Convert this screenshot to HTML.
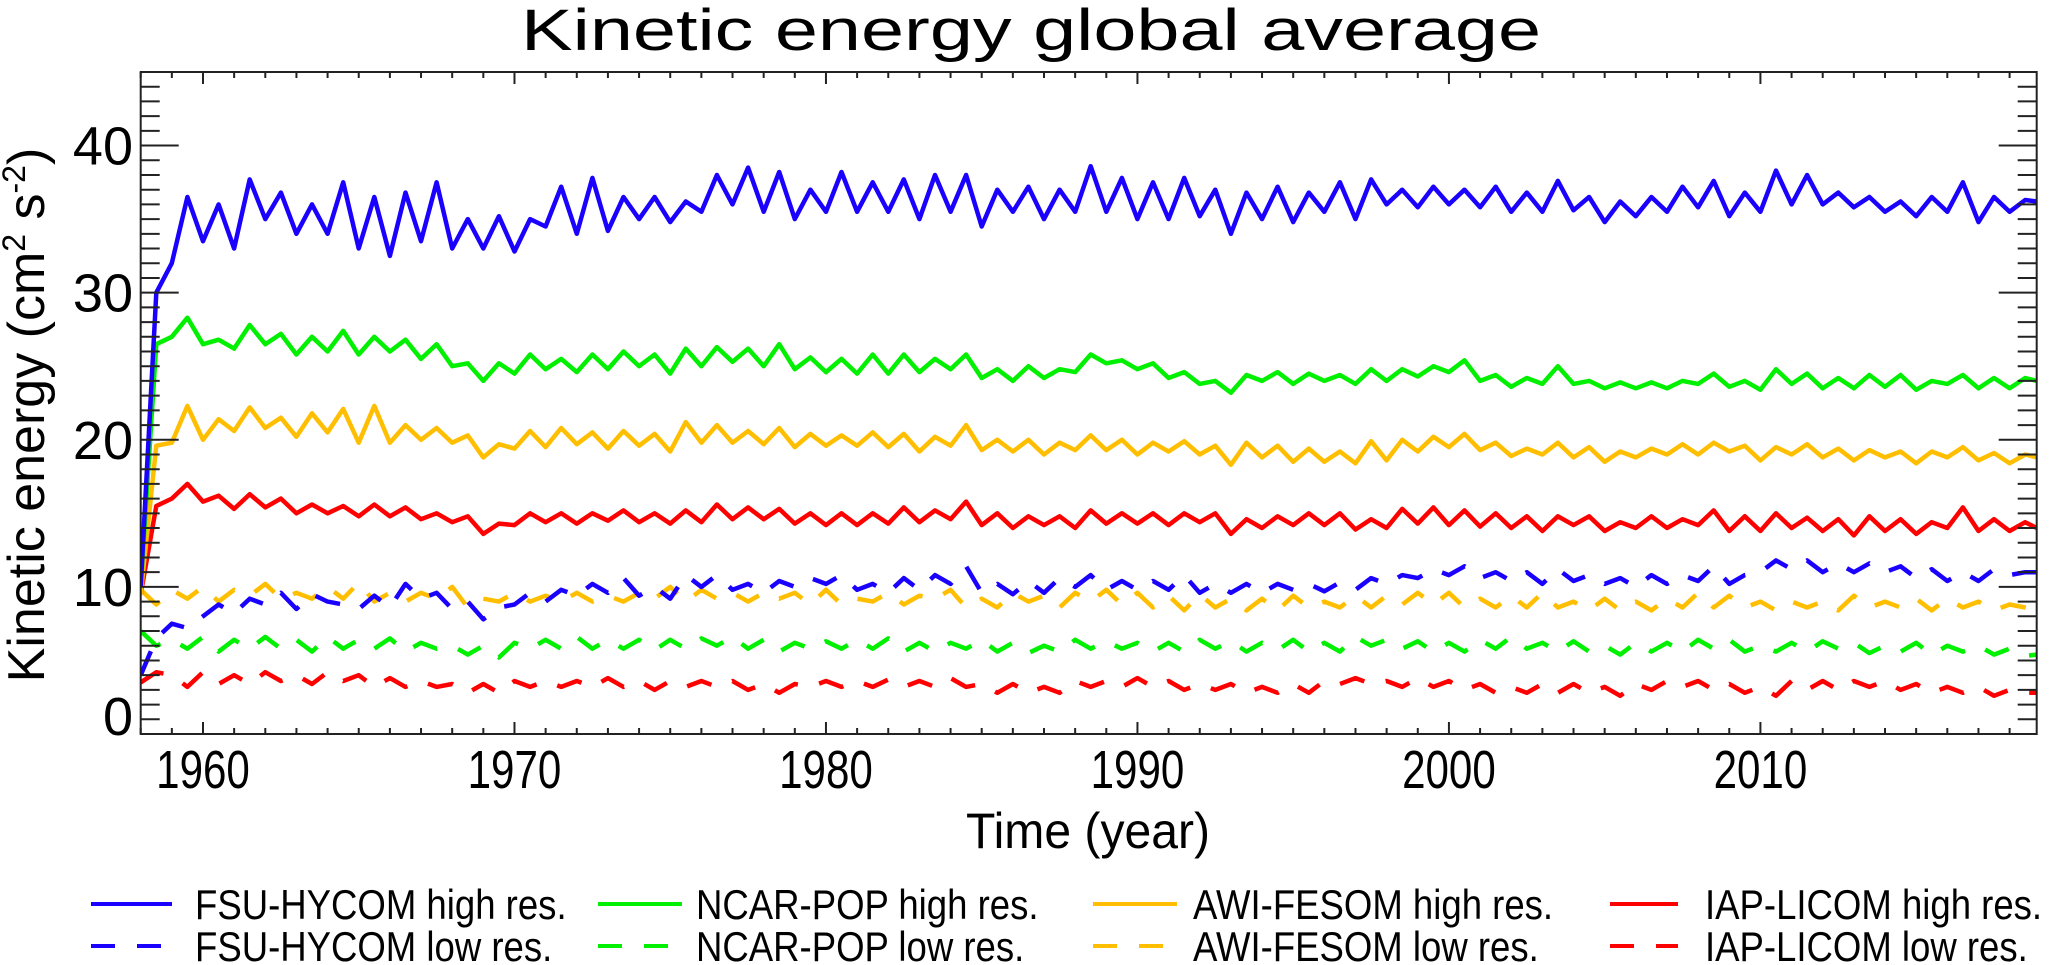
<!DOCTYPE html>
<html><head><meta charset="utf-8"><style>
html,body{margin:0;padding:0;background:#fff;}
svg{display:block;font-family:"Liberation Sans",Arial,sans-serif;}
</style></head><body>
<svg id="chart" width="2067" height="965" viewBox="0 0 2067 965" xmlns="http://www.w3.org/2000/svg">
<rect width="2067" height="965" fill="#fff"/>
<text x="1031" y="50" font-size="58" text-anchor="middle" textLength="1020" lengthAdjust="spacingAndGlyphs">Kinetic energy global average</text>
<g id="series"></g>
<g id="axes"></g>
<text x="1088" y="848" font-size="50" text-anchor="middle" textLength="244" lengthAdjust="spacingAndGlyphs">Time (year)</text>
<text transform="translate(44,415) rotate(-90)" font-size="52" text-anchor="middle">Kinetic energy (cm<tspan font-size="32" dy="-19">2</tspan><tspan dy="19"> s</tspan><tspan font-size="32" dy="-19">-2</tspan><tspan dy="19">)</tspan></text>
<g id="legend"></g>
</svg>
<script>
const T0 = 1958, DT = 0.5;
const seriesNames = ["FSU-HYCOM high res.","NCAR-POP high res.","AWI-FESOM high res.","IAP-LICOM high res.","FSU-HYCOM low res.","NCAR-POP low res.","AWI-FESOM low res.","IAP-LICOM low res."];
const seriesColors = ["#1a00ff","#00f000","#ffbf00","#ff0000","#1a00ff","#00f000","#ffbf00","#ff0000"];
const xTicks = [1960,1970,1980,1990,2000,2010];
const yTicks = [0,10,20,30,40];
const fsuHigh = [10,30,32,36.5,33.5,36,33,37.7,35,36.8,34,36,34,37.5,33,36.5,32.5,36.8,33.5,37.5,33,35,33,35.2,32.8,35,34.5,37.2,34,37.8,34.2,36.5,35,36.5,34.8,36.2,35.5,38,36,38.5,35.5,38.2,35,37,35.5,38.2,35.5,37.5,35.5,37.7,35,38,35.5,38,34.5,37,35.5,37.2,35,37,35.5,38.6,35.5,37.8,35,37.5,35,37.8,35.2,37,34,36.8,35,37.2,34.8,36.8,35.5,37.5,35,37.7,36,37,35.8,37.2,36,37,35.8,37.2,35.5,36.8,35.5,37.6,35.6,36.5,34.8,36.2,35.2,36.5,35.5,37.2,35.8,37.6,35.2,36.8,35.5,38.3,36,38,36,36.8,35.8,36.5,35.5,36.2,35.2,36.5,35.5,37.5,34.8,36.5,35.5,36.3,36.2];
const ncarHigh = [10,26.5,27,28.3,26.5,26.8,26.2,27.8,26.5,27.2,25.8,27,26,27.4,25.8,27,26,26.8,25.5,26.5,25,25.2,24,25.2,24.5,25.8,24.8,25.5,24.6,25.8,24.8,26,25,25.8,24.5,26.2,25,26.3,25.3,26.2,25,26.5,24.8,25.6,24.6,25.5,24.5,25.8,24.5,25.8,24.6,25.5,24.8,25.8,24.2,24.8,24,25,24.2,24.8,24.6,25.8,25.2,25.4,24.8,25.2,24.2,24.6,23.8,24,23.2,24.4,24,24.6,23.8,24.5,24,24.4,23.8,24.8,24,24.8,24.3,25,24.6,25.4,24,24.4,23.6,24.2,23.8,25,23.8,24,23.5,23.9,23.5,23.9,23.5,24,23.8,24.5,23.6,24,23.4,24.8,23.8,24.5,23.5,24.2,23.5,24.4,23.6,24.4,23.4,24,23.8,24.4,23.5,24.2,23.5,24.2,24];
const awiHigh = [9.5,19.6,19.8,22.3,20,21.4,20.6,22.2,20.8,21.5,20.2,21.8,20.5,22.1,19.8,22.3,19.8,21,20,20.8,19.8,20.3,18.8,19.7,19.4,20.6,19.5,20.8,19.7,20.5,19.4,20.6,19.6,20.4,19.2,21.2,19.8,21,19.8,20.6,19.7,20.8,19.5,20.4,19.6,20.3,19.6,20.5,19.5,20.4,19.2,20.2,19.6,21,19.3,20,19.2,20,19,19.8,19.3,20.3,19.3,20,19,19.8,19.2,19.9,19,19.6,18.3,19.8,18.8,19.6,18.5,19.4,18.5,19.2,18.4,19.9,18.6,20,19.2,20.2,19.5,20.4,19.3,19.8,18.9,19.4,19,19.8,18.8,19.5,18.5,19.2,18.8,19.4,19,19.7,19,19.8,19.2,19.6,18.6,19.5,19,19.7,18.8,19.4,18.6,19.3,18.8,19.2,18.4,19.2,18.8,19.5,18.6,19.1,18.4,19,18.8];
const iapHigh = [9.5,15.5,16,17,15.8,16.2,15.3,16.3,15.4,16,15,15.6,15,15.5,14.8,15.6,14.8,15.4,14.6,15,14.4,14.8,13.6,14.3,14.2,15,14.4,15,14.3,15,14.5,15.2,14.4,15,14.3,15.2,14.4,15.6,14.6,15.4,14.6,15.3,14.3,15,14.2,15,14.2,15,14.3,15.4,14.4,15.2,14.6,15.8,14.2,15,14,14.8,14.2,14.8,14,15.2,14.3,15,14.3,15,14.2,15,14.4,15,13.6,14.6,14,14.8,14.2,15,14.2,15,13.9,14.6,14,15.3,14.3,15.4,14.2,15.2,14.1,15,14,14.8,13.8,14.8,14.2,14.8,13.8,14.4,14,14.8,14,14.6,14.2,15.2,13.8,14.8,13.8,15,14,14.7,13.8,14.6,13.5,14.8,13.8,14.6,13.6,14.4,14,15.4,13.8,14.6,13.8,14.4,14];
const fsuLow = [4,6.5,7.5,7.2,8,8.8,8.2,9.2,8.8,9.6,8.5,9.5,9,8.8,8.5,9.4,8.6,10.2,9.2,9.6,8.5,9,7.8,8.6,8.8,9.6,9,9.8,9.4,10.2,9.6,10.6,9.4,10,9.2,10.8,10,10.8,9.8,10.2,9.6,10.4,10,10.6,10.2,10.8,9.8,10.2,9.6,10.6,9.8,10.8,10.2,11.4,9.6,10.2,9.5,10.4,9.6,10.6,10,10.8,9.8,10.4,9.8,10.4,9.8,10.8,9.6,10.2,9.6,10.2,9.6,10.2,9.8,10.2,9.7,10.3,9.8,10.6,10.2,10.8,10.6,11.2,10.8,11.4,10.6,11,10.4,11,10.2,11.2,10.4,10.8,10.2,10.6,10,10.8,10.2,10.8,10.4,11.4,10.2,10.8,11,11.8,11.2,11.8,11,11.6,11,11.6,11,11.4,10.6,11.2,10.4,11,10.4,11.2,10.8,11,11];
const ncarLow = [7,6,6.4,5.8,6.6,5.6,6.4,5.8,6.6,5.8,6.4,5.6,6.6,5.8,6.4,5.8,6.5,5.6,6.2,5.8,6,5.4,6,5.2,6.2,5.8,6.4,5.8,6.6,5.8,6.4,5.8,6.4,5.7,6.4,5.8,6.5,6,6.6,5.8,6.4,5.6,6.2,5.8,6.3,5.8,6.4,5.8,6.5,5.6,6.2,5.6,6.2,5.8,6.4,5.6,6.2,5.5,6,5.6,6.4,5.8,6.3,5.8,6.2,5.6,6.2,5.6,6.4,5.8,6.3,5.6,6.2,5.7,6.4,5.6,6.2,5.6,6.6,6,6.4,5.8,6.3,5.6,6.2,5.6,6.4,5.8,6.6,5.8,6.2,5.6,6.3,5.6,6,5.4,6.2,5.6,6.2,5.6,6.4,5.8,6.4,5.6,6,5.6,6.2,5.6,6.3,5.8,6.2,5.5,6,5.6,6.2,5.4,6,5.6,6,5.4,5.8,5.3,5.4];
const awiLow = [9.8,8.8,9.8,9.2,10,9,9.8,9.4,10.2,9.2,9.6,9.2,10,9.2,10.3,9,9.6,9,9.6,9.2,10,8.6,9.2,9,9.6,9,9.4,9,9.6,9,9.4,9,9.6,9.2,10,9,9.8,9.2,9.6,9,9.6,9.2,9.6,8.8,9.8,8.8,9.2,9,9.6,8.8,9.4,9.2,9.8,8.6,9.2,8.6,9.6,9,9.4,8.6,9.6,9,9.8,8.8,9.6,8.6,9.4,8.4,9.5,8.6,9.2,8.4,9.2,8.4,9.4,8.6,9,8.6,9.4,8.6,9.4,8.8,9.6,8.8,9.6,8.6,9.2,8.6,9.4,8.6,9.6,8.6,9,8.4,9.2,8.4,9,8.4,9.2,8.6,9.6,8.6,9.4,8.6,9,8.4,9,8.6,9,8.4,9.4,8.6,9,8.6,9.2,8.4,9.2,8.6,9,8.4,8.8,8.6,8.4];
const iapLow = [3.5,4.2,4,3.2,4.2,3.4,4,3.4,4.2,3.6,4,3.4,4.2,3.6,4,3.2,3.8,3.2,3.6,3.2,3.4,2.8,3.4,2.8,3.6,3.2,3.6,3.2,3.6,3.2,3.8,3.2,3.6,3,3.6,3.2,3.6,3.2,3.6,3,3.4,2.8,3.4,3.2,3.6,3.2,3.6,3.2,3.7,3.2,3.6,3.2,3.8,3.2,3.4,2.8,3.4,2.8,3.2,2.8,3.6,3.2,3.6,3.2,3.8,3.2,3.6,3,3.4,3,3.4,2.8,3.2,2.8,3.4,2.8,3.6,3.4,3.8,3.4,3.6,3.2,3.8,3.2,3.6,3,3.4,2.8,3.2,2.8,3.4,2.8,3.4,2.8,3.2,2.6,3.4,3,3.6,3.2,3.6,3,3.4,2.8,3.2,2.6,3.6,3,3.6,3,3.6,3.2,3.6,3,3.4,2.8,3.2,2.8,3.2,2.6,3,2.8,2.8];
const allSeries = [fsuHigh,ncarHigh,awiHigh,iapHigh,fsuLow,ncarLow,awiLow,iapLow];

const NS="http://www.w3.org/2000/svg";
const PL=140.7, PR=2036.7, PT=72, PB=734;
const XMIN=1958, XMAX=2018.87, YMIN=0, YMAX=45;
function xs(v){return PL+(v-XMIN)/(XMAX-XMIN)*(PR-PL);}
function ys(v){return PB-(v-YMIN)/(YMAX-YMIN)*(PB-PT);}
function mk(tag,attrs,parent){const e=document.createElementNS(NS,tag);for(const k in attrs)e.setAttribute(k,attrs[k]);parent.appendChild(e);return e;}
function squeeze(t,f){const w=t.getComputedTextLength();t.setAttribute('textLength',(w*f).toFixed(1));t.setAttribute('lengthAdjust','spacingAndGlyphs');}

const sg=document.getElementById('series');
const clip=mk('clipPath',{id:'pc'},mk('defs',{},sg));
mk('rect',{x:PL,y:PT,width:PR-PL,height:PB-PT},clip);
const order=[7,6,5,4,3,2,1,0];
order.forEach(si=>{
  const vals=allSeries[si];
  let d='';
  vals.forEach((v,i)=>{const t=Math.min(T0+i*DT,XMAX);d+=(i?'L':'M')+xs(t).toFixed(1)+','+ys(v).toFixed(1);});
  const p=mk('path',{d:d,fill:'none',stroke:seriesColors[si],'stroke-width':4.5,'stroke-linejoin':'round','clip-path':'url(#pc)'},sg);
  if(si>=4)p.setAttribute('stroke-dasharray','26 22');
  
  
});

const ax=document.getElementById('axes');
const frame=mk('rect',{x:PL,y:PT,width:PR-PL,height:PB-PT,fill:'none',stroke:'#222','stroke-width':2},ax);


for(let yr=1958;yr<=2018;yr++){
  const x=xs(yr), major=xTicks.includes(yr), L=major?12:6;
  mk('line',{x1:x,x2:x,y1:PB,y2:PB-L,stroke:'#222','stroke-width':2},ax);
  mk('line',{x1:x,x2:x,y1:PT,y2:PT+L,stroke:'#222','stroke-width':2},ax);
}
xTicks.forEach(v=>{
  const t=mk('text',{x:xs(v),y:788,'font-size':54,'text-anchor':'middle'},ax);
  t.textContent=v;
  
  
  squeeze(t,0.78);
});
for(let v=1;v<45;v++){
  const y=ys(v), major=yTicks.includes(v), L=major?38:19;
  mk('line',{x1:PL,x2:PL+L,y1:y,y2:y,stroke:'#222','stroke-width':2},ax);
  mk('line',{x1:PR,x2:PR-L,y1:y,y2:y,stroke:'#222','stroke-width':2},ax);
}
yTicks.forEach(v=>{
  const yy = v===0 ? 735 : ys(v)+19;
  const t=mk('text',{x:133,y:yy,'font-size':54,'text-anchor':'end'},ax);
  t.textContent=v;
  
  
});

const lg=document.getElementById('legend');
const colX=[[91,172,195],[598,682,696],[1093,1177,1193],[1610,1678,1705]];
const rowY=[904,946];
for(let i=0;i<8;i++){
  const c=colX[i%4], r=rowY[i<4?0:1];
  const ln=mk('line',{x1:c[0],x2:c[1],y1:r,y2:r,stroke:seriesColors[i],'stroke-width':4},lg);
  if(i>=4)ln.setAttribute('stroke-dasharray','24 22');
  
  
  const t=mk('text',{x:c[2],y:r+15,'font-size':42},lg);
  t.textContent=seriesNames[i];
  
  
  squeeze(t,0.87);
}
</script>
</body></html>
